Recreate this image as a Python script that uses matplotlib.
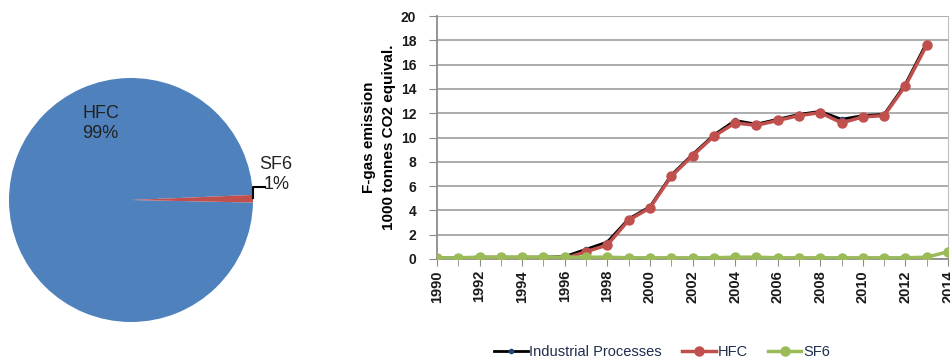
import matplotlib.pyplot as plt
import numpy as np

plt.rcParams['font.family'] = ['Liberation Sans Narrow', 'Liberation Sans', 'DejaVu Sans']

# Pie: share of F-gas emission by gas
pie_labels = ['HFC', 'SF6']
pie_shares = [99, 1]

# Line chart: yearly emission, 1000 tonnes CO2 equivalent
years = list(range(1990, 2015))
industrial = [0.1, 0.1, 0.15, 0.15, 0.15, 0.15, 0.2, 0.8, 1.4, 3.3, 4.3, 6.9, 8.6, 10.2,
              11.4, 11.1, 11.5, 11.9, 12.15, 11.5, 11.8, 11.9, 14.4, 17.8, np.nan]
hfc = [0.0, 0.0, 0.0, 0.0, 0.0, 0.0, 0.05, 0.6, 1.15, 3.2, 4.2, 6.8, 8.5, 10.1,
       11.2, 11.0, 11.4, 11.8, 12.05, 11.2, 11.7, 11.8, 14.25, 17.6, np.nan]
sf6 = [0.1, 0.1, 0.15, 0.15, 0.15, 0.15, 0.15, 0.15, 0.15, 0.1, 0.1, 0.1, 0.1, 0.1,
       0.15, 0.15, 0.1, 0.1, 0.1, 0.1, 0.1, 0.1, 0.1, 0.15, 0.6]

fig = plt.figure(figsize=(9.5, 3.6), dpi=100)

# --- pie ---
ax_pie = fig.add_axes([9 / 950, 1 - 322 / 360, 244 / 950, 244 / 360])
ax_pie.pie(pie_shares, colors=['#4F81BD', '#C0504D'], startangle=2.4,
           counterclock=True, wedgeprops=dict(linewidth=0))
ax_pie.set_xlim(-1, 1)
ax_pie.set_ylim(-1, 1)
ax_pie.set_aspect('equal')
ax_pie.text(-0.25, 0.63, 'HFC\n99%', ha='center', va='center', fontsize=13,
            color='#222222', linespacing=1.25)
ax_pie.text(1.19, 0.21, 'SF6\n1%', ha='center', va='center', fontsize=13,
            color='#222222', linespacing=1.25)
ax_pie.plot([1.0, 1.0, 1.1], [0.02, 0.11, 0.11], color='black', lw=1.5,
            clip_on=False)

# --- lines ---
ax = fig.add_axes([437 / 950, 1 - 259 / 360, 511 / 950, 243 / 360])
ax.plot(years, industrial, color='black', lw=2, marker='o', ms=3,
        mfc='#1F497D', mec='#1F497D', label='Industrial Processes', zorder=3)
ax.plot(years, hfc, color='#C0504D', lw=2.5, marker='o', ms=6.5,
        label='HFC', zorder=4)
ax.plot(years, sf6, color='#9BBB59', lw=2.5, marker='o', ms=6.5,
        label='SF6', zorder=5)

ax.set_xlim(1990, 2014)
ax.set_ylim(0, 20)
ax.set_yticks(range(0, 21, 2))
ax.set_xticks(years, minor=True)
ax.set_xticks(range(1990, 2015, 2))
ax.tick_params(axis='x', which='both', direction='out', length=5, color='#8C8C8C',
               labelsize=10.5, labelrotation=90, pad=3)
ax.tick_params(axis='y', direction='out', length=6, color='#8C8C8C',
               labelsize=10, pad=9)
for lbl in ax.get_xticklabels() + ax.get_yticklabels():
    lbl.set_fontweight('bold')
    lbl.set_color('#1a1a1a')
ax.grid(axis='y', color='#A6A6A6', lw=1.3)
ax.set_axisbelow(True)
for side in ['left', 'bottom']:
    ax.spines[side].set_color('#8C8C8C')
    ax.spines[side].set_linewidth(1.3)
ax.spines['top'].set_visible(False)
ax.spines['right'].set_color('#BFBFBF')
ax.set_ylabel('F-gas emission\n1000 tonnes CO2 equival.', fontsize=11,
              fontweight='bold', labelpad=3, linespacing=1.55)

fig.legend(loc='center', bbox_to_anchor=(662 / 950, 1 - 352 / 360), ncol=3,
           frameon=False, fontsize=10.5, handlelength=2.3, columnspacing=1.4,
           handletextpad=0.1, labelcolor='#1F2D4D')

fig.savefig('out.png', dpi=100)
